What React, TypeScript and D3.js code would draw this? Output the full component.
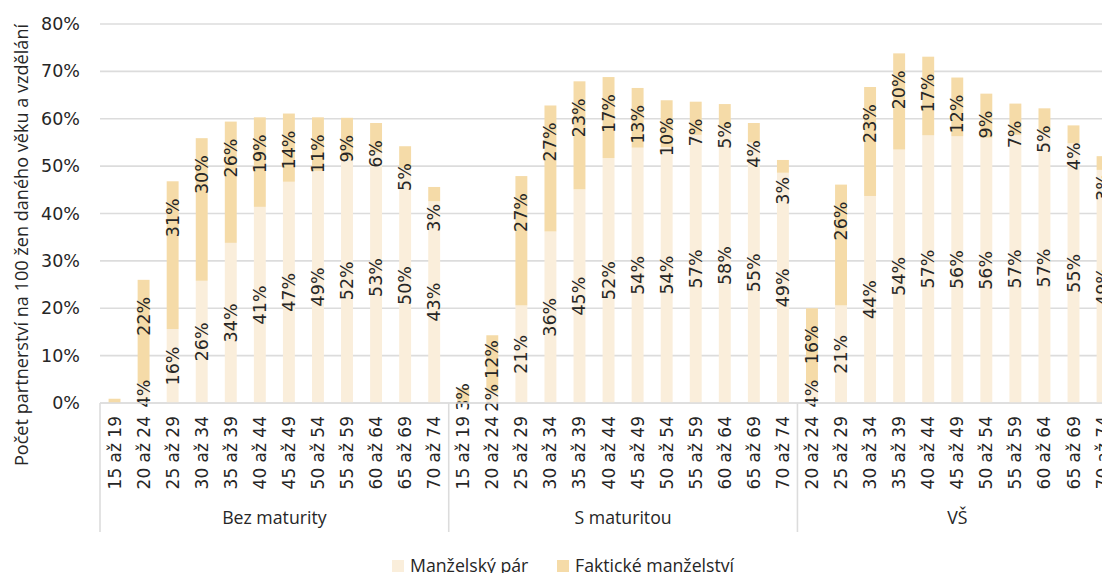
import React from "react";
import * as d3 from "d3";

// ---------- data ----------
const groups = ["Bez maturity", "S maturitou", "VŠ"];
const agesBez = ["15 až 19", "20 až 24", "25 až 29", "30 až 34", "35 až 39", "40 až 44", "45 až 49", "50 až 54", "55 až 59", "60 až 64", "65 až 69", "70 až 74"];
const agesS = ["15 až 19", "20 až 24", "25 až 29", "30 až 34", "35 až 39", "40 až 44", "45 až 49", "50 až 54", "55 až 59", "60 až 64", "65 až 69", "70 až 74"];
const agesVS = ["20 až 24", "25 až 29", "30 až 34", "35 až 39", "40 až 44", "45 až 49", "50 až 54", "55 až 59", "60 až 64", "65 až 69", "70 až 74"];

const manzelskyBez = [0, 4, 15.6, 25.8, 33.8, 41.4, 46.7, 49.0, 51.6, 53.0, 49.6, 42.6];
const faktickeBez = [0.9, 22.0, 31.2, 30.1, 25.6, 18.9, 14.4, 11.3, 8.6, 6.1, 4.6, 3.0];
const manzelskyS = [0.2, 2.2, 20.6, 36.2, 45.1, 51.7, 53.9, 54.0, 56.6, 58.0, 55.0, 48.6];
const faktickeS = [3.0, 12.1, 27.3, 26.6, 22.8, 17.1, 12.6, 9.9, 7.0, 5.1, 4.1, 2.7];
const manzelskyVS = [4.0, 20.6, 43.7, 53.5, 56.5, 56.3, 56.0, 56.6, 57.0, 54.8, 49.2];
const faktickeVS = [16.0, 25.5, 23.0, 20.3, 16.6, 12.4, 9.3, 6.6, 5.2, 3.8, 2.9];

const yTicks = [0, 10, 20, 30, 40, 50, 60, 70, 80];
const seriesNames = ["Manželský pár", "Faktické manželství"];
const yTitle = "Počet partnerství na 100 žen daného věku a vzdělání";

// ---------- style ----------
const W = 1102;
const H = 573;
const colLight = "#FAEEDB";
const colDark = "#F5DBA8";
const gridCol = "#DCDCDC";
const textCol = "#262626";
const numFont = "'DejaVu Sans', sans-serif";
const txtFont = "'Open Sans', sans-serif";
const labelSize = 17.5;

type Row = { key: string; group: string; age: string; m: number; f: number };

const groupAges = [agesBez, agesS, agesVS];
const groupM = [manzelskyBez, manzelskyS, manzelskyVS];
const groupF = [faktickeBez, faktickeS, faktickeVS];

const rows: Row[] = [];
groups.forEach((g, gi) => {
  groupAges[gi].forEach((a, i) => {
    rows.push({ key: g + "|" + a, group: g, age: a, m: groupM[gi][i], f: groupF[gi][i] });
  });
});

// approximate rendered length of a "NN%" label in DejaVu Sans
const labelLen = (s: string) => {
  let em = 0;
  for (const ch of s) em += ch === "%" ? 0.95 : 0.636;
  return em * labelSize;
};

export default function App() {
  const left = 100;
  const stepPx = 29.06;
  const x = d3
    .scaleBand<string>()
    .domain(rows.map((r) => r.key))
    .range([left, left + rows.length * stepPx])
    .paddingInner(0.59)
    .paddingOuter(0.295);
  const y = d3.scaleLinear().domain([0, 80]).range([403, 24]);
  const step = x.step();
  const bw = x.bandwidth();
  const plotRight = left + rows.length * step;
  const y0 = y(0);

  const stack = d3.stack<Row>().keys(["m", "f"])(rows);

  const fmt = (v: number) => Math.round(v) + "%";

  // group boundaries
  const bounds: number[] = [left];
  const groupCenters: number[] = [];
  let idx = 0;
  groups.forEach((g, gi) => {
    const n = groupAges[gi].length;
    const start = left + idx * step;
    idx += n;
    const end = left + idx * step;
    bounds.push(end);
    groupCenters.push((start + end) / 2);
  });

  return (
    <svg
      width={W}
      height={H}
      style={{ position: "absolute", left: 0, top: 0, background: "#fff" }}
    >
      {/* gridlines */}
      {yTicks.map((t) => (
        <line key={"g" + t} x1={left} x2={plotRight} y1={y(t)} y2={y(t)} stroke={gridCol} strokeWidth={1.6} />
      ))}
      {/* y tick labels */}
      {yTicks.map((t) => (
        <text
          key={"yt" + t}
          x={80}
          y={y(t)}
          textAnchor="end"
          dominantBaseline="central"
          fontFamily={numFont}
          fontSize={17.5}
          fill={textCol}
        >
          {t + "%"}
        </text>
      ))}
      {/* y title */}
      <text
        transform={`translate(21,${245}) rotate(-90)`}
        textAnchor="middle"
        dominantBaseline="central"
        fontFamily={txtFont}
        fontSize={18.1}
        fill={textCol}
      >
        {yTitle}
      </text>

      {/* bars */}
      {stack.map((s, si) =>
        s.map((d) => (
          <rect
            key={s.key + d.data.key}
            x={x(d.data.key)}
            y={y(d[1])}
            width={bw}
            height={Math.max(0, y(d[0]) - y(d[1]))}
            fill={si === 0 ? colLight : colDark}
          />
        ))
      )}

      {/* value labels: Manželský pár (centred) */}
      {stack[0].map((d) => {
        const v = d.data.m;
        if (v < 1) return null;
        const cx = (x(d.data.key) as number) + bw / 2;
        const cy = (y(d[0]) + y(d[1])) / 2;
        return (
          <text
            key={"lm" + d.data.key}
            transform={`translate(${cx},${cy}) rotate(-90)`}
            textAnchor="middle"
            dominantBaseline="central"
            fontFamily={numFont}
            fontSize={labelSize}
            fill={textCol}
          >
            {fmt(v)}
          </text>
        );
      })}
      {/* value labels: Faktické manželství (inside end, avoiding overlap) */}
      {stack[1].map((d, i) => {
        const v = d.data.f;
        if (v < 1) return null;
        const cx = (x(d.data.key) as number) + bw / 2;
        const txt = fmt(v);
        const len = labelLen(txt);
        let ey = Math.min(y(d[1]) + 17, y0 - 20);
        const mv = d.data.m;
        if (mv >= 1) {
          const m0 = stack[0][i];
          const cyM = (y(m0[0]) + y(m0[1])) / 2;
          const mTop = cyM - labelLen(fmt(mv)) / 2;
          if (ey + len > mTop - 5) ey = mTop - 5 - len;
        }
        return (
          <text
            key={"lf" + d.data.key}
            transform={`translate(${cx},${ey}) rotate(-90)`}
            textAnchor="end"
            dominantBaseline="central"
            fontFamily={numFont}
            fontSize={labelSize}
            fill={textCol}
          >
            {txt}
          </text>
        );
      })}

      {/* x axis line */}
      <line x1={left} x2={plotRight} y1={y0} y2={y0} stroke={gridCol} strokeWidth={1.6} />
      {/* group separators */}
      {bounds.map((b, i) => (
        <line key={"b" + i} x1={b} x2={b} y1={y0} y2={532} stroke={gridCol} strokeWidth={1.6} />
      ))}
      {/* category labels */}
      {rows.map((r) => (
        <text
          key={"c" + r.key}
          transform={`translate(${(x(r.key) as number) + bw / 2},${416}) rotate(-90)`}
          textAnchor="end"
          dominantBaseline="central"
          fontFamily={numFont}
          fontSize={17}
          fill={textCol}
        >
          {r.age}
        </text>
      ))}
      {/* group labels */}
      {groups.map((g, i) => (
        <text
          key={"gl" + g}
          x={groupCenters[i]}
          y={524}
          textAnchor="middle"
          fontFamily={txtFont}
          fontSize={17.7}
          fill={textCol}
        >
          {g}
        </text>
      ))}

      {/* legend */}
      {seriesNames.map((n, i) => {
        const lx = i === 0 ? 392 : 557;
        return (
          <g key={"lg" + n}>
            <rect x={lx} y={560} width={12} height={12} fill={i === 0 ? colLight : colDark} />
            <text x={lx + 18} y={571.5} fontFamily={txtFont} fontSize={17.7} fill={textCol}>
              {n}
            </text>
          </g>
        );
      })}
    </svg>
  );
}
